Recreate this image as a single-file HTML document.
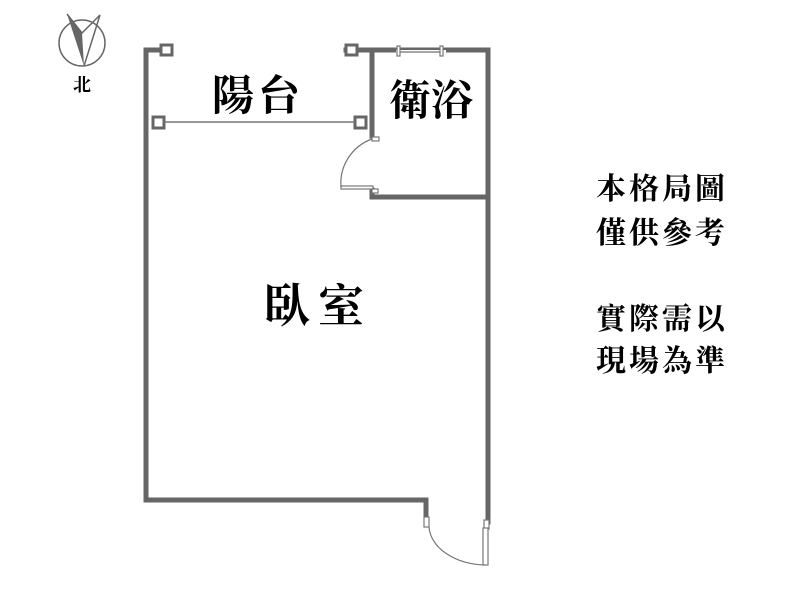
<!DOCTYPE html>
<html><head><meta charset="utf-8"><style>
html,body{margin:0;padding:0;background:#fff;}
svg{display:block;}
text{font-family:"Liberation Serif","Noto Serif CJK SC","Noto Sans CJK TC",serif;fill:#000;font-weight:bold;}
</style></head><body>
<svg width="800" height="613" viewBox="0 0 800 613" xmlns="http://www.w3.org/2000/svg">
<g stroke="#666" stroke-width="5" fill="none" stroke-linecap="square">
<polyline points="160,50 146,50 146,500 426,500 426,520"/>
<polyline points="346,50 488,50 488,522"/>
<line x1="372" y1="50" x2="372" y2="136"/>
<line x1="374" y1="197" x2="488" y2="197"/>
<line x1="372" y1="190" x2="372" y2="197"/>
</g>
<g fill="#fff" stroke="#666" stroke-width="3">
<rect x="161" y="45" width="11" height="10"/>
<rect x="346" y="45" width="11" height="10"/>
<rect x="153" y="117" width="11" height="11"/>
<rect x="355" y="117" width="11" height="11"/>
</g>
<g stroke="#777" stroke-width="1.5" fill="none">
<line x1="164" y1="122" x2="355" y2="122"/>
</g>
<rect x="396" y="50" width="50" height="4" fill="#fff"/>
<line x1="398" y1="52" x2="442" y2="52" stroke="#888" stroke-width="1.5"/>
<g fill="#fff" stroke="#777" stroke-width="1.2">
<rect x="397" y="46" width="3" height="10"/>
<rect x="440" y="46" width="3" height="10"/>
</g>
<g stroke="#777" stroke-width="1.2" fill="#fff">
<rect x="372" y="137" width="7" height="4"/>
<rect x="341" y="186" width="32" height="3"/>
<rect x="372" y="189" width="6" height="4"/>
</g>
<path d="M372,139 A47,47 0 0 0 341,187" stroke="#777" stroke-width="1.2" fill="none"/>
<g stroke="#777" stroke-width="1.2" fill="#fff">
<rect x="424" y="517" width="5" height="10"/>
<rect x="484" y="520" width="5" height="9"/>
<rect x="483" y="528" width="5" height="37"/>
</g>
<path d="M429,527 A58,40 0 0 0 485,565" stroke="#777" stroke-width="1.2" fill="none"/>
<circle cx="82" cy="43" r="23" fill="none" stroke="#666" stroke-width="1.5"/>
<polygon points="67,14 82,33 84,66" fill="#666"/>
<polyline points="67,14 82,33 100,15 84,66" fill="none" stroke="#666" stroke-width="1.5"/>
<text x="82" y="91" font-size="18" text-anchor="middle">北</text>
<text x="258" y="110" font-size="42" text-anchor="middle" letter-spacing="4">陽台</text>
<text x="431" y="115" font-size="42" text-anchor="middle">衛浴</text>
<text x="318" y="322" font-size="46" text-anchor="middle" letter-spacing="8">臥室</text>
<g font-size="30" letter-spacing="3">
<text x="596" y="199">本格局圖</text>
<text x="596" y="243">僅供參考</text>
<text x="596" y="329">實際需以</text>
<text x="596" y="371">現場為準</text>
</g>
</svg>
</body></html>
